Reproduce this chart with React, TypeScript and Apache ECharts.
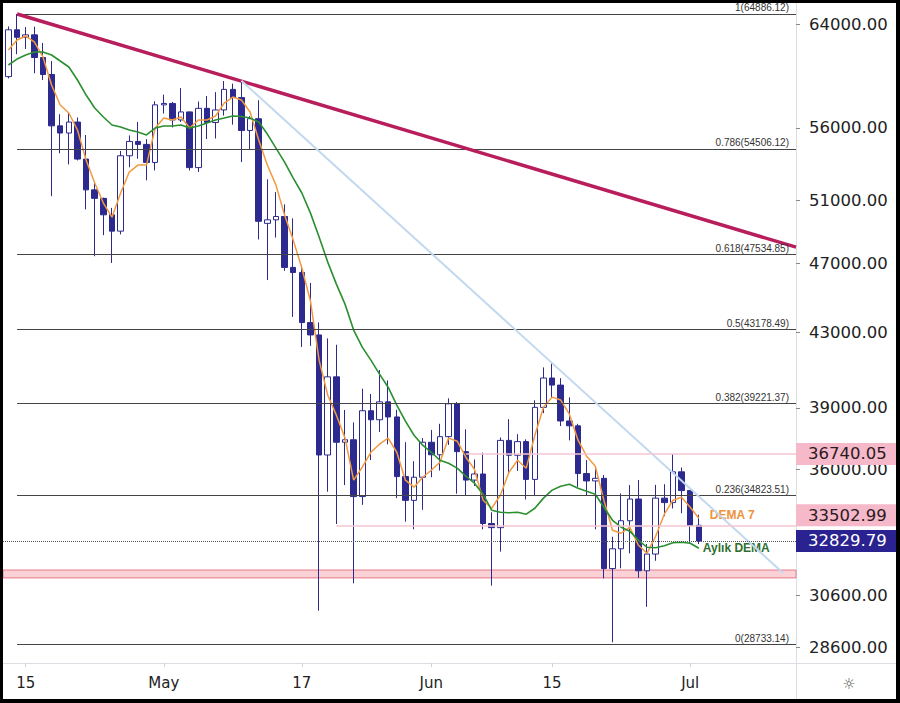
import React, { useEffect, useRef } from "react";
import * as echarts from "echarts";

// Daily candles, 13 Apr 2021 .. 2 Jul 2021 (index 0 .. 80)
const dates = [
  "Apr 13","Apr 14","Apr 15","Apr 16","Apr 17","Apr 18","Apr 19","Apr 20","Apr 21","Apr 22",
  "Apr 23","Apr 24","Apr 25","Apr 26","Apr 27","Apr 28","Apr 29","Apr 30","May 1","May 2",
  "May 3","May 4","May 5","May 6","May 7","May 8","May 9","May 10","May 11","May 12",
  "May 13","May 14","May 15","May 16","May 17","May 18","May 19","May 20","May 21","May 22",
  "May 23","May 24","May 25","May 26","May 27","May 28","May 29","May 30","May 31","Jun 1",
  "Jun 2","Jun 3","Jun 4","Jun 5","Jun 6","Jun 7","Jun 8","Jun 9","Jun 10","Jun 11",
  "Jun 12","Jun 13","Jun 14","Jun 15","Jun 16","Jun 17","Jun 18","Jun 19","Jun 20","Jun 21",
  "Jun 22","Jun 23","Jun 24","Jun 25","Jun 26","Jun 27","Jun 28","Jun 29","Jun 30","Jul 1","Jul 2"
];

const opens = [
  59840, 63575, 62960, 63160, 61335, 60005, 56150, 55630, 56425, 53790,
  51690, 51125, 50050, 49005, 54020, 55030, 54820, 53555, 57695, 57800,
  56580, 57170, 53200, 57435, 56395, 57315, 58860, 58240, 55815, 56670,
  49500, 49725, 49940, 46760, 46450, 43540, 42850, 36690, 40590, 37300,
  37420, 34770, 38850, 38400, 39300, 38540, 35680, 34600, 35650, 37300,
  36700, 37570, 39200, 36850, 35520, 35800, 33580, 33400, 37390, 36680,
  37330, 35550, 39020, 40530, 40160, 38340, 38100, 35820, 35480, 35600,
  31680, 32500, 33700, 34660, 31590, 32280, 34700, 34500, 35900, 35040,
  33503
];
const closes = [
  63575, 62960, 63160, 61335, 60005, 56150, 55630, 56425, 53790, 51690,
  51125, 50050, 49005, 54020, 55030, 54820, 53555, 57695, 57800, 56580,
  57170, 53200, 57435, 56395, 57315, 58860, 58240, 55815, 56670, 49630,
  49725, 49940, 46760, 46450, 43540, 42850, 36690, 40590, 37300, 37420,
  34770, 38850, 38400, 39300, 38540, 35680, 34600, 35650, 37300, 36700,
  37570, 39200, 36850, 35520, 35800, 33580, 33400, 37390, 36680, 37330,
  35550, 39020, 40530, 40160, 38340, 38100, 35820, 35480, 35600, 31680,
  32500, 33700, 34660, 31590, 32280, 34700, 34500, 35900, 35040, 33503,
  32830
];
const lows = [
  59700, 61600, 62020, 60100, 59580, 51270, 54200, 53420, 53695, 50400,
  47440, 48750, 47030, 48800, 53220, 53810, 52330, 53010, 57050, 56035,
  56435, 53000, 52900, 55200, 55240, 56900, 56235, 53580, 54470, 48480,
  46000, 48600, 46555, 43860, 42190, 42250, 30000, 34990, 33560, 35290,
  31080, 34400, 36450, 37800, 37200, 34700, 33660, 33330, 34180, 35650,
  35960, 37170, 34900, 34800, 35250, 33330, 30990, 32380, 35800, 35940,
  34640, 34800, 38730, 39510, 38090, 37390, 35210, 34820, 33330, 31280,
  28800, 31690, 32310, 31300, 30150, 32000, 33900, 34240, 34030, 32730,
  32700
];
const highs = [
  63850, 64886, 63800, 63830, 62500, 61050, 57000, 57070, 56760, 55490,
  52130, 51170, 50500, 54360, 55460, 56430, 55195, 57965, 58460, 57910,
  58960, 57200, 57940, 58360, 58650, 59500, 59300, 59520, 56860, 58040,
  52400, 51540, 50730, 49820, 46900, 45830, 43550, 42660, 42310, 38890,
  38270, 39970, 39700, 40950, 40400, 38900, 37300, 36400, 37500, 37900,
  38200, 39480, 39290, 37930, 36480, 36800, 34070, 37530, 38430, 37690,
  37440, 39380, 41090, 41330, 40520, 39530, 38200, 36450, 36120, 35750,
  33010, 34910, 35290, 35520, 32700, 35300, 35330, 36740, 36100, 35060,
  33960
];

// Indicator lines
const dema7 = [
  61935, 62740, 63065, 62580, 61380, 59195, 57680, 57090, 55850, 53720,
  52150, 50815, 49900, 51480, 52895, 53375, 53375, 55990, 56720, 56575,
  56795, 55990, 56575, 56575, 56870, 57830, 58280, 58055, 57160, 55130,
  53375, 52010, 50030, 48440, 46720, 44765, 41475, 39640, 38630, 37500,
  35515, 36115, 36820, 37207, 37500, 36820, 35515, 35195, 35650, 35975,
  36350, 37500, 37350, 36585, 36020, 34605, 34250, 34830, 35880, 36440,
  36070, 37640, 39030, 39540, 39390, 38680, 37400, 36635, 36160, 34605,
  33290, 33160, 33420, 32650, 32315, 33030, 33986, 34605, 34740, 34295,
  33810
];
const monthlyDema = [
  60745, 61215, 61535, 61775, 61775, 61535, 61060, 60590, 59580, 58430,
  57460, 56795, 56210, 56065, 55850, 55700, 55490, 55990, 56135, 56135,
  56210, 55990, 56135, 56355, 56575, 56720, 56870, 56830, 56720, 56430,
  55558, 54560, 53580, 52485, 51480, 50160, 48630, 47080, 45761, 44592,
  43120, 42180, 41475, 40732, 40050, 39130, 38330, 37640, 37160, 36820,
  36440, 36300, 36070, 35700, 35375, 34876, 34160, 34075, 34050, 34075,
  33986, 34250, 34700, 35060, 35240, 35330, 35150, 35010, 34876, 34295,
  33720, 33420, 33250, 32860, 32565, 32545, 32630, 32755, 32775, 32735,
  32525
];

const xTickIdx = [2, 18, 34, 49, 63, 79];
const xTickLabels = ["15", "May", "17", "Jun", "15", "Jul"];
const yTicks = [28600, 30600, 36000, 39000, 43000, 47000, 51000, 56000, 64000];

const fibRatios = ["1", "0.786", "0.618", "0.5", "0.382", "0.236", "0"];
const fibValues = [64886.12, 54506.12, 47534.85, 43178.49, 39221.37, 34823.51, 28733.14];

// Trend lines: [startIndex, startValue, endIndex, endValue]
const mainTrend = [1, 64886.12, 91.26, 48000];
const blueTrend = [27, 59520, 89.76, 31500];

// Price levels
const resistanceLevel = { value: 36740.05, from: 53 };
const closeLevel = { value: 33502.99, from: 38 };
const lastPrice = 32829.79;
const supportBand = [31300, 31620];

const X_MIN = -0.63;
const X_MAX = 91.26;

export default function App() {
  const ref = useRef<HTMLDivElement>(null);

  useEffect(() => {
    if (!ref.current) return;
    const chart = echarts.init(ref.current, undefined, { renderer: "svg" });

    const boxLabel = (text: string, bg: string, fg: string, offsetY: number) => ({
      show: true,
      position: "end",
      formatter: text,
      distance: 0,
      backgroundColor: bg,
      color: fg,
      fontFamily: "DejaVu Sans",
      fontSize: 16.5,
      lineHeight: 17,
      padding: [3, 10, 2, 12],
      offset: [0, offsetY],
    });

    const fibLines = fibValues.map((v, i) => [
      {
        coord: [1, v],
        lineStyle: { color: "#444", width: 1, type: "solid" },
        label: {
          show: true,
          position: "insideEndTop",
          formatter: `${fibRatios[i]}(${v.toFixed(2)})`,
          fontFamily: "Liberation Sans",
          fontSize: 10,
          color: "#333",
          distance: 1,
          padding: [0, 6, 0, 0],
        },
      },
      { coord: [X_MAX, v] },
    ]);

    const option: any = {
      animation: false,
      backgroundColor: "#ffffff",
      grid: { left: 0, top: 0, width: 793, height: 660, containLabel: false },
      xAxis: {
        type: "value",
        min: X_MIN,
        max: X_MAX,
        axisLine: { show: true, onZero: false, lineStyle: { color: "#dcdee3" } },
        axisTick: { show: true, customValues: xTickIdx, length: 4, lineStyle: { color: "#cfd2d8" } },
        axisLabel: {
          customValues: xTickIdx,
          formatter: (v: number) => {
            const k = xTickIdx.indexOf(Math.round(v));
            return k >= 0 ? xTickLabels[k] : "";
          },
          fontFamily: "DejaVu Sans",
          fontSize: 15,
          color: "#222",
          margin: 12,
        },
        splitLine: { show: false },
      },
      yAxis: {
        type: "log",
        logBase: 10,
        min: 28039,
        max: 65815,
        position: "right",
        axisLine: { show: true, onZero: false, lineStyle: { color: "#dcdee3" } },
        axisTick: { show: true, customValues: yTicks, length: 4, lineStyle: { color: "#888" } },
        axisLabel: {
          customValues: yTicks,
          formatter: (v: number) => Math.round(v).toFixed(2),
          fontFamily: "DejaVu Sans",
          fontSize: 16.5,
          color: "#222",
          margin: 13,
        },
        splitLine: { show: false },
      },
      series: [
        {
          type: "candlestick",
          name: "BTC",
          data: opens.map((o, i) => [i, o, closes[i], lows[i], highs[i]]),
          barWidth: 6,
          z: 3,
          itemStyle: {
            color: "#ffffff",
            color0: "#2c2a8f",
            borderColor: "#2c2a8f",
            borderColor0: "#2c2a8f",
            borderWidth: 1,
          },
          markArea: {
            silent: true,
            itemStyle: { color: "rgba(246,178,188,0.6)", borderColor: "#e57a88", borderWidth: 1 },
            data: [[{ yAxis: supportBand[0] }, { yAxis: supportBand[1] }]],
          },
          markLine: {
            silent: true,
            symbol: ["none", "none"],
            animation: false,
            data: [
              ...fibLines,
              [
                {
                  coord: [mainTrend[0], mainTrend[1]],
                  lineStyle: { color: "#b81d5c", width: 3.5, type: "solid" },
                  label: { show: false },
                },
                { coord: [mainTrend[2], mainTrend[3]] },
              ],
              [
                {
                  coord: [blueTrend[0], blueTrend[1]],
                  lineStyle: { color: "#c2d8f0", width: 2, type: "solid" },
                  label: { show: false },
                },
                { coord: [blueTrend[2], blueTrend[3]] },
              ],
              [
                {
                  coord: [resistanceLevel.from, resistanceLevel.value],
                  lineStyle: { color: "#f5c6d2", width: 1.5, type: "solid" },
                  label: boxLabel(resistanceLevel.value.toFixed(2), "#f6b9ca", "#2b1a22", 0),
                },
                { coord: [X_MAX, resistanceLevel.value] },
              ],
              [
                {
                  coord: [closeLevel.from, closeLevel.value],
                  lineStyle: { color: "#f5c6d2", width: 1.5, type: "solid" },
                  label: boxLabel(closeLevel.value.toFixed(2), "#f6b9ca", "#2b1a22", -10),
                },
                { coord: [X_MAX, closeLevel.value] },
              ],
              [
                {
                  coord: [X_MIN, lastPrice],
                  lineStyle: { color: "#555", width: 1, type: "dotted" },
                  label: boxLabel(lastPrice.toFixed(2), "#2a2290", "#ffffff", 0),
                },
                { coord: [X_MAX, lastPrice] },
              ],
            ],
          },
        },
        {
          type: "line",
          name: "DEMA 7",
          data: dema7.map((v, i) => [i, v]),
          showSymbol: false,
          z: 4,
          lineStyle: { color: "#f29a3f", width: 1.5 },
          endLabel: {
            show: true,
            formatter: "DEMA 7",
            color: "#f0923a",
            fontWeight: "bold",
            fontFamily: "Liberation Sans",
            fontSize: 12,
            distance: 11,
            offset: [0, -3],
          },
        },
        {
          type: "line",
          name: "Aylık DEMA",
          data: monthlyDema.map((v, i) => [i, v]),
          showSymbol: false,
          z: 4,
          lineStyle: { color: "#2a8f2e", width: 1.6 },
          endLabel: {
            show: true,
            formatter: "Aylık DEMA",
            color: "#2e6f30",
            fontWeight: "bold",
            fontFamily: "Liberation Sans",
            fontSize: 12,
            distance: 4,
          },
        },
      ],
      graphic: [
        { type: "line", shape: { x1: 793, y1: 660.5, x2: 893, y2: 660.5 }, style: { stroke: "#dcdee3", lineWidth: 1 } },
        { type: "line", shape: { x1: 793.5, y1: 660, x2: 793.5, y2: 696 }, style: { stroke: "#dcdee3", lineWidth: 1 } },
        {
          type: "text",
          x: 846,
          y: 681,
          style: { text: "☼", fill: "#555", fontSize: 15, fontFamily: "DejaVu Sans", textAlign: "center", textVerticalAlign: "middle" },
        },
      ],
    };

    chart.setOption(option);
    return () => chart.dispose();
  }, []);

  return (
    <div style={{ position: "fixed", left: 0, top: 0, width: 900, height: 703, background: "#000" }}>
      <div
        ref={ref}
        style={{ position: "absolute", left: 3, top: 3, width: 893, height: 696, background: "#fff" }}
      />
    </div>
  );
}
